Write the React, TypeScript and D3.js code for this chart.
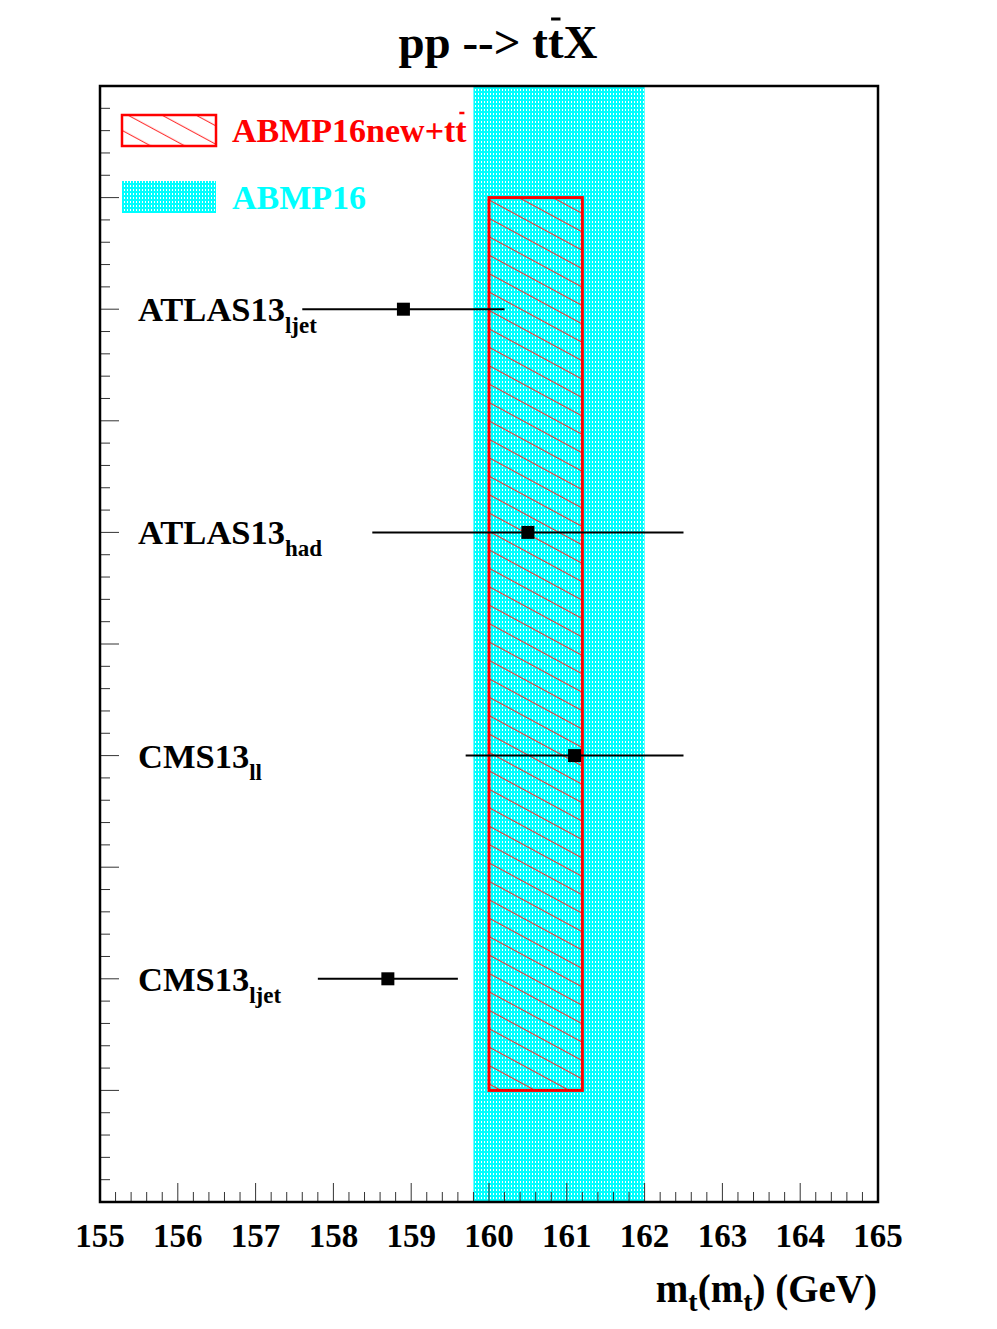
import React, { useEffect, useRef, useState } from "react";
import * as d3 from "d3";

// ---- data ----
const experiments = ["ATLAS13", "ATLAS13", "CMS13", "CMS13"];
const subscripts = ["ljet", "had", "ll", "ljet"];
const positions = [8, 6, 4, 2];
const centralValues = [158.9, 160.5, 161.1, 158.7];
const errors = [1.3, 2.0, 1.4, 0.9];
const bandABMP16 = [159.8, 162.0];
const bandABMP16new = [160.0, 161.2];
const bandNewY = [1, 9];
const xTickValues = [155, 156, 157, 158, 159, 160, 161, 162, 163, 164, 165];
const legendLabels = ["ABMP16new+tt", "ABMP16"];
const xDomain = [155, 165];
const yDomain = [0, 10];

const W = 997;
const H = 1329;
const FONT = "'Liberation Serif', 'Times New Roman', serif";

export default function App() {
  const x = d3.scaleLinear().domain(xDomain).range([100, 878]);
  const y = d3.scaleLinear().domain(yDomain).range([1202, 86]);

  const titleRef = useRef<SVGTextElement>(null);
  const legRef = useRef<SVGTextElement>(null);
  const [bars, setBars] = useState<{ t: any; l: any }>({ t: null, l: null });

  useEffect(() => {
    const t = titleRef.current ? titleRef.current.getExtentOfChar(8) : null;
    const l = legRef.current ? legRef.current.getExtentOfChar(11) : null;
    setBars({
      t: t ? { x: t.x, y: t.y, w: t.width } : null,
      l: l ? { x: l.x, y: l.y, w: l.width } : null,
    });
  }, []);

  const xMinor = d3.range(0, 51).map((i) => xDomain[0] + i * 0.2);
  const yMinor = d3.range(0, 51).map((i) => yDomain[0] + i * 0.2);

  return (
    <svg
      width={W}
      height={H}
      style={{ position: "absolute", left: 0, top: 0, background: "#fff" }}
      fontFamily={FONT}
      fontWeight="bold"
    >
      <defs>
        <pattern
          id="hatch"
          patternUnits="userSpaceOnUse"
          width={16.2}
          height={16.2}
          patternTransform="rotate(28.4)"
        >
          <rect width={16.2} height={16.2} fill="none" />
          <line x1={0} y1={8} x2={16.2} y2={8} stroke="#ff2020" strokeWidth={1} />
        </pattern>
        <pattern id="dots" patternUnits="userSpaceOnUse" width={3} height={4}>
          <rect width={3} height={4} fill="#00ffff" shapeRendering="crispEdges" />
          <rect x={1} y={1} width={1} height={2} fill="#ffffff" shapeRendering="crispEdges" />
        </pattern>
      </defs>

      <rect width={W} height={H} fill="#fff" />

      {/* ABMP16 band */}
      <rect
        x={x(bandABMP16[0])}
        y={y(yDomain[1])}
        width={x(bandABMP16[1]) - x(bandABMP16[0])}
        height={y(yDomain[0]) - y(yDomain[1])}
        fill="url(#dots)"
      />

      {/* ABMP16new+tt box */}
      <rect
        x={x(bandABMP16new[0])}
        y={y(bandNewY[1])}
        width={x(bandABMP16new[1]) - x(bandABMP16new[0])}
        height={y(bandNewY[0]) - y(bandNewY[1])}
        fill="url(#hatch)"
        stroke="#ff0000"
        strokeWidth={3}
      />

      {/* data points */}
      {positions.map((p, i) => (
        <g key={"pt" + i}>
          <line
            x1={x(centralValues[i] - errors[i])}
            x2={x(centralValues[i] + errors[i])}
            y1={y(p)}
            y2={y(p)}
            stroke="#000"
            strokeWidth={2}
          />
          <rect
            x={x(centralValues[i]) - 6.5}
            y={y(p) - 6.5}
            width={13}
            height={13}
            fill="#000"
          />
          <text x={138} y={y(p) + 12} fontSize={34.5} fill="#000">
            {experiments[i]}
            <tspan fontSize={23} dy={12}>
              {subscripts[i]}
            </tspan>
          </text>
        </g>
      ))}

      {/* axis ticks */}
      {xMinor.map((v, i) => {
        const major = Math.abs(v - Math.round(v)) < 1e-6;
        return (
          <line
            key={"xt" + i}
            x1={x(v)}
            x2={x(v)}
            y1={1202}
            y2={major ? 1183 : 1192}
            stroke="#333"
            strokeWidth={1}
          />
        );
      })}
      {yMinor.map((v, i) => {
        const major = Math.abs(v - Math.round(v)) < 1e-6;
        return (
          <line
            key={"yt" + i}
            x1={100}
            x2={major ? 119 : 110}
            y1={y(v)}
            y2={y(v)}
            stroke="#333"
            strokeWidth={1}
          />
        );
      })}

      {/* frame */}
      <rect
        x={100}
        y={86}
        width={778}
        height={1116}
        fill="none"
        stroke="#000"
        strokeWidth={2.5}
      />

      {/* x tick labels */}
      {xTickValues.map((v) => (
        <text key={"xl" + v} x={x(v)} y={1247} fontSize={33} textAnchor="middle" fill="#000">
          {v}
        </text>
      ))}

      {/* x title */}
      <text x={877} y={1302} fontSize={39} textAnchor="end" fill="#000">
        m<tspan fontSize={28} dy={9}>t</tspan>
        <tspan dy={-9}>(m</tspan>
        <tspan fontSize={28} dy={9}>t</tspan>
        <tspan dy={-9}>) (GeV)</tspan>
      </text>

      {/* title */}
      <text ref={titleRef} x={498} y={58} fontSize={47} textAnchor="middle" fill="#000">
        pp --&gt; ttX
      </text>
      {bars.t && (
        <line
          x1={bars.t.x + bars.t.w * 0.2}
          x2={bars.t.x + bars.t.w * 0.8}
          y1={bars.t.y + 3}
          y2={bars.t.y + 3}
          stroke="#000"
          strokeWidth={3}
        />
      )}

      {/* legend */}
      <rect x={122} y={115} width={94} height={31} fill="url(#hatch)" stroke="#ff0000" strokeWidth={2.5} />
      <text ref={legRef} x={232} y={142} fontSize={34} fill="#ff0000">
        {legendLabels[0]}
      </text>
      {bars.l && (
        <line
          x1={bars.l.x + bars.l.w * 0.35}
          x2={bars.l.x + bars.l.w * 0.8}
          y1={bars.l.y + 1}
          y2={bars.l.y + 1}
          stroke="#ff0000"
          strokeWidth={2.5}
        />
      )}
      <rect x={122} y={181} width={94} height={32} fill="url(#dots)" />
      <text x={232} y={209} fontSize={34} fill="#00ffff">
        {legendLabels[1]}
      </text>
    </svg>
  );
}
